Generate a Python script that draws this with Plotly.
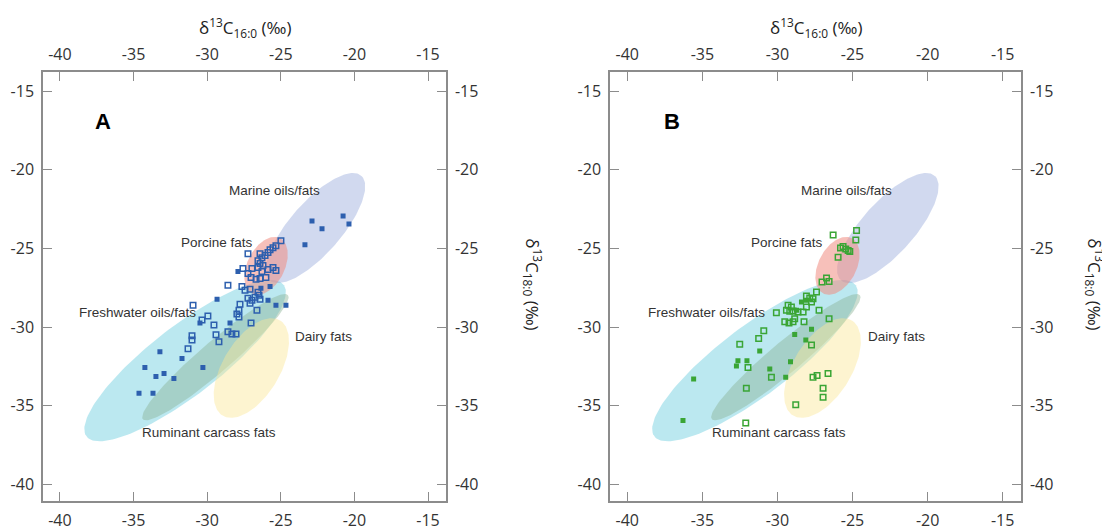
import numpy as np
import plotly.graph_objects as go

# ---------------- data ----------------
x_ticks = [-40, -35, -30, -25, -20, -15]
x_tick_labels = ["-40", "-35", "-30", "-25", "-20", "-15"]
y_ticks = [-15, -20, -25, -30, -35, -40]
y_tick_labels = ["-15", "-20", "-25", "-30", "-35", "-40"]
x_range = [-41.15, -13.78]
y_range = [-41.07, -13.8]

# reference ellipses (centre, semi-axes, rotation in degrees)
ell_names = ["Freshwater oils/fats", "Ruminant carcass fats", "Dairy fats", "Marine oils/fats", "Porcine fats"]
ell_cx = [-31.5, -29.44, -27.0, -22.65, -26.0]
ell_cy = [-32.13, -31.91, -32.6, -23.7, -26.1]
ell_a = [8.25, 6.31, 3.6, 4.56, 2.0]
ell_b = [2.25, 1.0, 1.9, 1.7, 1.25]
ell_angle = [35.5, 38.6, 56.0, 46.3, 60.0]
ell_colors = ["rgba(120,210,225,0.5)", "rgba(140,180,150,0.45)", "rgba(250,230,150,0.45)",
              "rgba(140,160,215,0.4)", "rgba(240,140,130,0.55)"]

label_text = ["Marine oils/fats", "Porcine fats", "Freshwater oils/fats", "Dairy fats", "Ruminant carcass fats"]
label_x = [-25.4, -29.35, -34.72, -22.1, -29.9]
label_y = [-21.28, -24.62, -29.04, -30.62, -36.67]

# Panel A samples
a_open_x = [-24.99, -25.33, -25.53, -25.73, -25.87, -26.07, -26.28, -26.41, -26.55, -26.41, -26.21, -26.55, -26.28,
            -25.87, -25.53, -25.33, -27.23, -27.57, -26.96, -27.23, -27.02, -26.68, -26.41, -26.01, -28.59, -27.64,
            -27.43, -27.09, -26.55, -26.48, -26.75, -27.23, -26.96, -27.09, -26.41, -26.62, -27.77, -27.84, -27.98,
            -27.84, -30.96, -29.95, -30.35, -29.54, -28.59, -28.32, -28.04, -27.02, -31.03, -31.03, -29.40, -29.20,
            -31.30]
a_open_y = [-24.51, -24.82, -24.95, -25.08, -25.26, -25.45, -25.58, -25.33, -25.77, -25.96, -26.08, -26.21, -26.46,
            -26.33, -26.21, -26.40, -25.33, -26.27, -26.27, -26.59, -26.84, -26.96, -26.90, -26.84, -27.34, -27.41,
            -27.66, -27.59, -27.78, -27.97, -28.10, -28.16, -28.29, -28.48, -28.22, -28.92, -28.54, -28.92, -29.17,
            -29.36, -28.60, -29.29, -29.55, -29.86, -30.30, -30.43, -30.43, -29.74, -30.55, -30.81, -30.49, -30.93,
            -31.37]
a_fill_x = [-27.91, -26.35, -25.73, -25.87, -25.33, -24.65, -29.33, -30.49, -28.45, -22.88, -20.77, -20.37, -22.20,
            -23.36, -33.21, -31.71, -34.23, -33.48, -32.93, -32.26, -30.29, -34.63, -33.68]
a_fill_y = [-26.46, -27.53, -27.41, -28.29, -28.60, -28.60, -28.22, -29.74, -29.74, -23.25, -22.93, -23.44, -23.75,
            -24.76, -31.56, -32.00, -32.57, -33.14, -32.95, -33.26, -32.57, -34.21, -34.21]

# Panel B samples
b_open_x = [-26.29, -24.73, -24.78, -25.80, -25.63, -25.45, -25.29, -25.18, -25.96, -26.73, -26.56, -27.03, -27.40,
            -28.07, -27.85, -27.63, -27.73, -30.07, -29.29, -29.07, -29.40, -29.18, -28.96, -28.63, -28.29, -28.07,
            -27.23, -28.85, -28.96, -29.23, -29.51, -28.23, -26.56, -30.91, -31.25, -27.73, -32.51, -31.96, -30.40,
            -27.63, -27.36, -26.63, -26.96, -26.96, -28.78, -32.07, -32.11]
b_open_y = [-24.14, -23.86, -24.46, -24.96, -24.87, -25.03, -25.13, -25.19, -25.55, -26.88, -27.09, -27.13, -27.77,
            -28.02, -28.15, -28.19, -28.40, -29.08, -28.61, -28.72, -28.92, -28.99, -28.97, -29.03, -29.03, -28.72,
            -28.92, -29.46, -29.66, -29.73, -29.66, -29.66, -29.46, -30.23, -30.72, -31.14, -31.08, -32.56, -33.19,
            -33.19, -33.08, -32.94, -33.89, -34.46, -34.94, -33.89, -36.10]
b_fill_x = [-28.13, -28.40, -28.73, -27.73, -28.85, -28.11, -31.18, -32.63, -32.73, -32.03, -29.13, -30.51, -29.45,
            -35.58, -36.29]
b_fill_y = [-28.29, -28.40, -28.92, -30.13, -30.47, -30.82, -31.52, -32.13, -32.47, -32.13, -32.20, -32.66, -33.19,
            -33.29, -35.93]

BLUE = "#2d5fae"
GREEN = "#3aa535"
TICK_FONT = dict(family="Open Sans", size=16, color="#333333")
LABEL_FONT = dict(family="Liberation Sans", size=13.5, color="#333333")
TITLE_FONT = dict(family="Open Sans", size=17, color="#222222")

fig = go.Figure()


def ellipse_xy(cx, cy, a, b, ang):
    t = np.linspace(0, 2 * np.pi, 160)
    th = np.deg2rad(ang)
    x = cx + a * np.cos(th) * np.cos(t) - b * np.sin(th) * np.sin(t)
    y = cy + a * np.sin(th) * np.cos(t) + b * np.cos(th) * np.sin(t)
    return x, y


panels = [
    dict(xa="x", ya="y", ox="x3", oy="y3", color=BLUE,
         ox_pts=(a_open_x, a_open_y), f_pts=(a_fill_x, a_fill_y), letter="A"),
    dict(xa="x2", ya="y2", ox="x4", oy="y4", color=GREEN,
         ox_pts=(b_open_x, b_open_y), f_pts=(b_fill_x, b_fill_y), letter="B"),
]

for p in panels:
    for i in range(len(ell_names)):
        ex, ey = ellipse_xy(ell_cx[i], ell_cy[i], ell_a[i], ell_b[i], ell_angle[i])
        fig.add_trace(go.Scatter(x=ex, y=ey, mode="lines", fill="toself", fillcolor=ell_colors[i],
                                 line=dict(width=0), hoverinfo="skip", showlegend=False,
                                 xaxis=p["xa"], yaxis=p["ya"]))
    fig.add_trace(go.Scatter(x=p["f_pts"][0], y=p["f_pts"][1], mode="markers",
                             marker=dict(symbol="square", size=5, color=p["color"]),
                             showlegend=False, xaxis=p["xa"], yaxis=p["ya"]))
    fig.add_trace(go.Scatter(x=p["ox_pts"][0], y=p["ox_pts"][1], mode="markers",
                             marker=dict(symbol="square-open", size=5.5, color=p["color"],
                                         line=dict(width=1.5, color=p["color"])),
                             showlegend=False, xaxis=p["xa"], yaxis=p["ya"]))
    # dummy trace so the mirrored (top / right) axes are drawn
    fig.add_trace(go.Scatter(x=[None], y=[None], mode="markers", showlegend=False,
                             xaxis=p["ox"], yaxis=p["oy"]))

# the page body has an 8 px margin, so the figure is 8 px smaller than the window
OFF = 8
W, H = 1110 - OFF, 531 - OFF
xdomA = [(43 - OFF) / W, (446 - OFF) / W]
xdomB = [(610 - OFF) / W, (1021 - OFF) / W]
ydom = [(H - (506 - OFF)) / H, (H - (73 - OFF)) / H]

common = dict(showgrid=False, zeroline=False, showline=True, linecolor="#8c8c8c", linewidth=1.5,
              ticks="inside", ticklen=9, tickwidth=1, tickcolor="#8c8c8c", tickfont=TICK_FONT,
              ticklabelstandoff=4)
xcommon = dict(common, range=x_range, tickvals=x_ticks, ticktext=x_tick_labels)
ycommon = dict(common, range=y_range, tickvals=y_ticks, ticktext=y_tick_labels)

fig.update_layout(
    width=W, height=H,
    margin=dict(l=0, r=0, t=0, b=0),
    paper_bgcolor="white", plot_bgcolor="white",
    xaxis=dict(xcommon, domain=xdomA, anchor="y", side="bottom"),
    yaxis=dict(ycommon, domain=ydom, anchor="x", side="left"),
    xaxis3=dict(xcommon, overlaying="x", anchor="y", side="top"),
    yaxis3=dict(ycommon, overlaying="y", anchor="x", side="right"),
    xaxis2=dict(xcommon, domain=xdomB, anchor="y2", side="bottom"),
    yaxis2=dict(ycommon, domain=ydom, anchor="x2", side="left"),
    xaxis4=dict(xcommon, overlaying="x2", anchor="y2", side="top"),
    yaxis4=dict(ycommon, overlaying="y2", anchor="x2", side="right"),
    showlegend=False,
)

annotations = []
for p, xd, rx in [(panels[0], xdomA, (533 - OFF) / W), (panels[1], xdomB, (1095 - OFF) / W)]:
    for t, lx, ly in zip(label_text, label_x, label_y):
        annotations.append(dict(text=t, x=lx, y=ly, xref=p["xa"], yref=p["ya"], showarrow=False,
                                font=LABEL_FONT, xanchor="center", yanchor="middle"))
    annotations.append(dict(text="<b>" + p["letter"] + "</b>", x=-37.05, y=-16.9, xref=p["xa"], yref=p["ya"],
                            showarrow=False, font=dict(family="Liberation Sans", size=22, color="black"),
                            xanchor="center", yanchor="middle"))
    annotations.append(dict(text="δ<sup>13</sup>C<sub>16:0</sub> (‰)", x=(xd[0] + xd[1]) / 2,
                            y=1 - (28 - OFF) / H,
                            xref="paper", yref="paper", showarrow=False, font=TITLE_FONT,
                            xanchor="center", yanchor="middle"))
    annotations.append(dict(text="δ<sup>13</sup>C<sub>18:0</sub> (‰)", x=rx, y=(ydom[0] + ydom[1]) / 2 + 0.005,
                            xref="paper", yref="paper", showarrow=False, textangle=90, font=TITLE_FONT,
                            xanchor="center", yanchor="middle"))
fig.update_layout(annotations=annotations)

fig.write_html("out.html", config={"displayModeBar": False})
